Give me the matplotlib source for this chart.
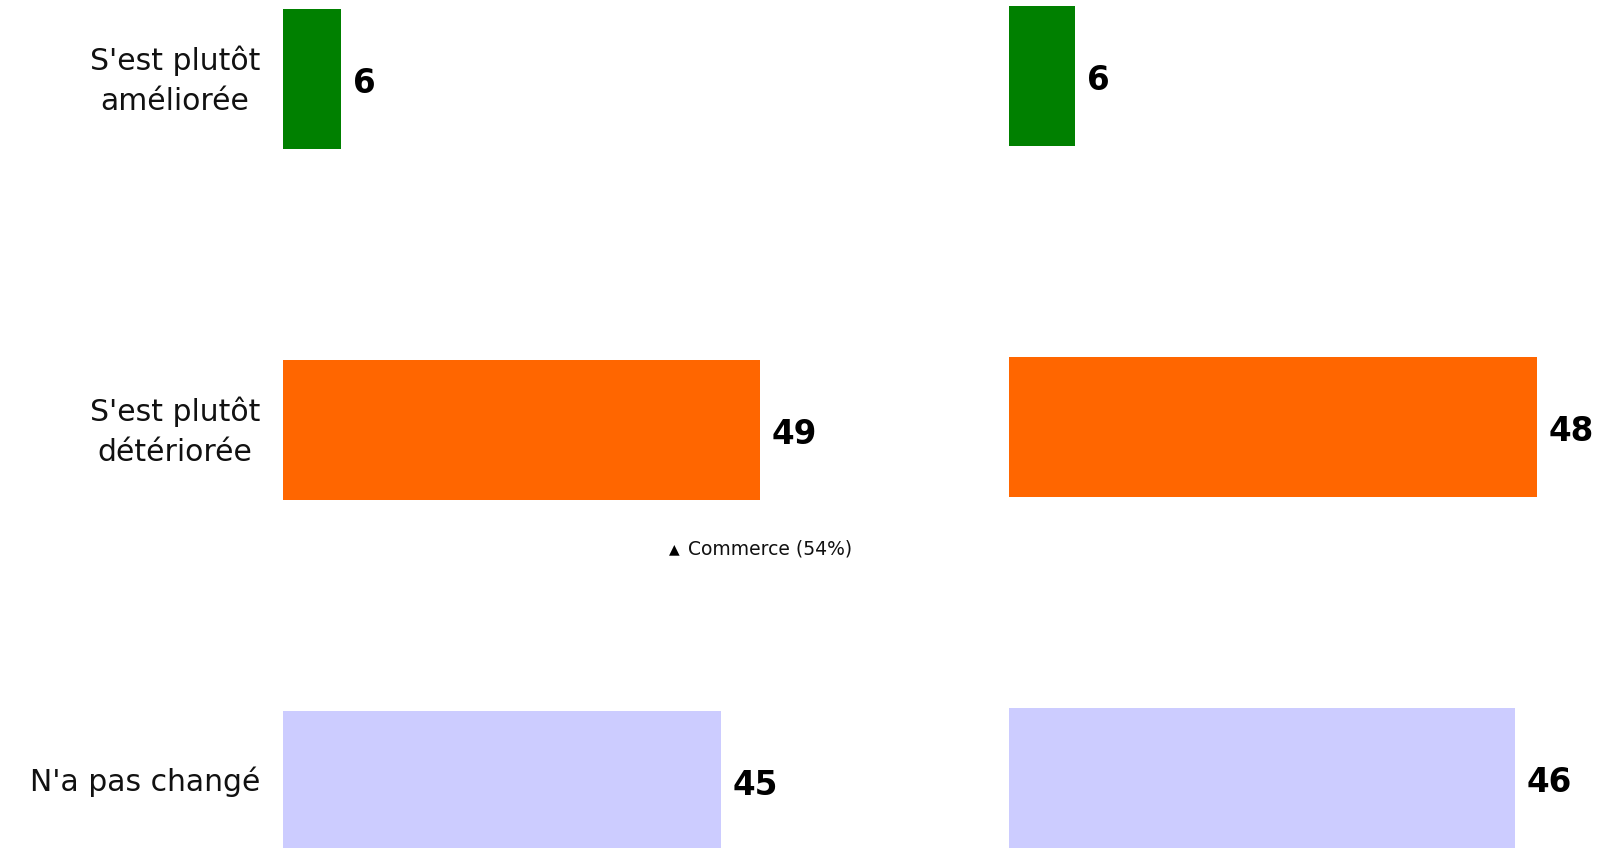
import matplotlib
matplotlib.use("Agg")
import matplotlib.pyplot as plt
from matplotlib.transforms import offset_copy

categories = ["S'est plutôt\naméliorée", "S'est plutôt\ndétériorée", "N'a pas changé"]
left_values = [6, 49, 45]
right_values = [6, 48, 46]
colors = ["#008000", "#FF6600", "#CCCCFF"]
note_text = "Commerce (54%)"

W, H = 1605, 848
fig = plt.figure(figsize=(W / 100, H / 100), dpi=100)

# left panel: 9.75 px per unit, right panel: 11 px per unit
ax1 = fig.add_axes([282.5 / W, 0, 585 / W, 1])
ax1.set_xlim(0, 60)
ax1.set_ylim(2.1913, -0.2246)

ax2 = fig.add_axes([1009 / W, 0, 594 / W, 1])
ax2.set_xlim(0, 54)
ax2.set_ylim(2.1999, -0.2161)

ypos = list(range(len(categories)))
b1 = ax1.barh(ypos, left_values, height=0.4, color=colors)
b2 = ax2.barh(ypos, right_values, height=0.4, color=colors)

for ax, bars in [(ax1, b1), (ax2, b2)]:
    anns = ax.bar_label(bars, padding=8.5, fontsize=23.5, fontweight="bold", color="black")
    for a in anns:
        a.xyann = (8.5, -3)
    for s in ax.spines.values():
        s.set_visible(False)
    ax.set_xticks([])
    ax.set_yticks([])

# category labels to the left of the bars
for y, lab in zip(ypos, categories):
    dy = -2 if "\n" in lab else -1
    tr = offset_copy(ax1.transData, fig=fig, x=-22.5, y=dy, units="dots")
    ax1.text(0, y, lab, transform=tr, fontsize=21.5, color="#111111",
             ha="right", va="center", multialignment="center", linespacing=1.45)

# annotation under the orange bar
ax1.text(40.2, 1.34, "▲", fontsize=10, ha="center", va="center")
ax1.text(41.6, 1.34, note_text, fontsize=13.5, ha="left", va="center", color="#111111")

fig.savefig("out.png", dpi=100)
